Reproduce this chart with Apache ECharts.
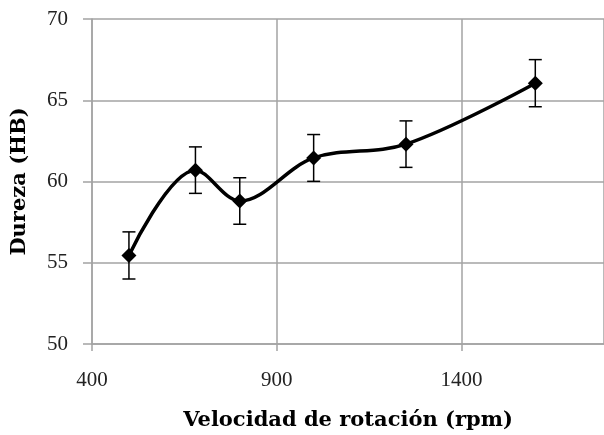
<!DOCTYPE html>
<html>
<head>
<meta charset="utf-8">
<script src="https://cdn.jsdelivr.net/npm/echarts@6/dist/echarts.min.js"></script>
<style>
  html, body { margin: 0; padding: 0; background: #fff; }
  #chart { width: 604px; height: 435px; }
</style>
</head>
<body>
<div id="chart"></div>
<script>
// velocidad de rotación (rpm) y dureza (HB)
const velocidad = [500, 680, 800, 1000, 1250, 1600]
const dureza = [55.45, 60.7, 58.8, 61.45, 62.3, 66.05]
const error = [1.45, 1.43, 1.43, 1.44, 1.43, 1.45]
const yTicks = [50, 55, 60, 65, 70]

const serif = 'Liberation Serif'
const gris = '#a3a3a3'

const puntos = velocidad.map((v, i) => [v, dureza[i]])
const barras = velocidad.map((v, i) => [v, dureza[i] - error[i], dureza[i] + error[i]])

const chart = echarts.init(document.getElementById('chart'))
chart.setOption({
  animation: false,
  backgroundColor: '#fff',
  grid: { left: 92, top: 19, right: 0, bottom: 91, outerBoundsMode: 'none' },
  xAxis: {
    type: 'value',
    min: 400,
    max: 1786,
    interval: 500,
    name: 'Velocidad de rotación (rpm)',
    nameLocation: 'middle',
    nameGap: 66,
    nameTextStyle: { fontFamily: 'DejaVu Serif', fontWeight: 'bold', fontSize: 21, color: '#000' },
    axisLine: { show: true, lineStyle: { color: gris, width: 1.5 } },
    axisTick: { show: true, length: 7, lineStyle: { color: gris, width: 1.5 } },
    axisLabel: { fontFamily: serif, fontSize: 21, color: '#222', margin: 26, showMaxLabel: false, formatter: v => String(v) },
    splitLine: { show: true, lineStyle: { color: gris, width: 1.5 } }
  },
  yAxis: {
    type: 'value',
    min: yTicks[0],
    max: yTicks[yTicks.length - 1],
    interval: 5,
    name: 'Dureza (HB)',
    nameLocation: 'middle',
    nameGap: 62,
    nameRotate: 90,
    nameTextStyle: { fontFamily: 'DejaVu Serif', fontWeight: 'bold', fontSize: 21, color: '#000' },
    axisLine: { show: true, lineStyle: { color: gris, width: 1.5 } },
    axisTick: { show: true, length: 9, lineStyle: { color: gris, width: 1.5 } },
    axisLabel: { fontFamily: serif, fontSize: 21, color: '#222', margin: 24 },
    splitLine: { show: true, lineStyle: { color: gris, width: 1.5 } }
  },
  series: [
    {
      type: 'custom', // barras de error
      z: 3,
      data: barras,
      renderItem: function (params, api) {
        const x = api.value(0)
        const lo = api.coord([x, api.value(1)])
        const hi = api.coord([x, api.value(2)])
        const w = 6.5
        const estilo = { stroke: '#000', lineWidth: 1.5 }
        return {
          type: 'group',
          children: [
            { type: 'line', shape: { x1: lo[0], y1: lo[1], x2: hi[0], y2: hi[1] }, style: estilo },
            { type: 'line', shape: { x1: lo[0] - w, y1: lo[1], x2: lo[0] + w, y2: lo[1] }, style: estilo },
            { type: 'line', shape: { x1: hi[0] - w, y1: hi[1], x2: hi[0] + w, y2: hi[1] }, style: estilo }
          ]
        }
      }
    },
    {
      type: 'line',
      z: 4,
      data: puntos,
      smooth: 0.35,
      symbol: 'diamond',
      symbolSize: 15,
      lineStyle: { color: '#000', width: 3.5 },
      itemStyle: { color: '#000' }
    }
  ]
})
</script>
</body>
</html>
